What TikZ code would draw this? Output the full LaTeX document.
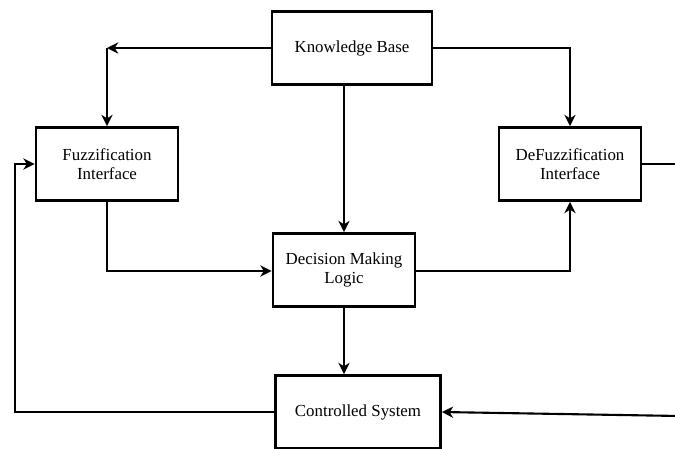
\documentclass[tikz,border=0pt]{standalone}
\usepackage{fontspec}
\setmainfont{Liberation Serif}
\usetikzlibrary{arrows.meta,positioning}

\begin{document}
\begin{tikzpicture}[x=0.025cm,y=-0.025cm,>={Stealth[length=8pt,width=8pt,inset=2.5pt]}]
  \tikzstyle{block}=[draw,line width=2pt,align=center,minimum width=3.55cm,minimum height=1.825cm,font=\fontsize{12}{14}\selectfont]
  \tikzstyle{link}=[line width=1.5pt]
  \clip (0,0) rectangle (675,448);
  \node[block,minimum width=4cm] (kb) at (352,48) {Knowledge Base};
  \node[block] (fuzz) at (107,164) {Fuzzification\\Interface};
  \node[block] (defuzz) at (570,164) {DeFuzzification\\Interface};
  \node[block] (dml) at (344,270) {Decision Making\\Logic};
  \node[block,minimum width=4.125cm] (cs) at (358,412) {Controlled System};
  \coordinate (kbleft) at (107,48);
  \coordinate (kbright) at (570,48);
  \coordinate (fbot) at (107,271);
  \coordinate (dright) at (570,271);
  \coordinate (csleft) at (15,412);
  \coordinate (fleft) at (15,164);
  \coordinate (dout) at (680,164);
  \coordinate (csin) at (680,416);
  \draw[link,->] (kb.west) -- (kbleft);
  \draw[link,->] (kbleft) -- (fuzz.north);
  \draw[link,->] (kb.east) -- (kbright) -- (defuzz.north);
  \draw[link,->] (kb.south -| dml.north) -- (dml.north);
  \draw[link,->] (fuzz.south) -- (fbot) -- (dml.west |- fbot);
  \draw[link,->] (dml.east |- dright) -- (dright) -- (defuzz.south);
  \draw[link] (defuzz.east) -- (dout);
  \draw[link,->] (dml.south) -- (dml.south |- cs.north);
  \draw[link,->] (cs.west) -- (csleft) -- (fleft) -- (fuzz.west);
  \draw[link,->] (csin) -- (cs.east);
\end{tikzpicture}
\end{document}
